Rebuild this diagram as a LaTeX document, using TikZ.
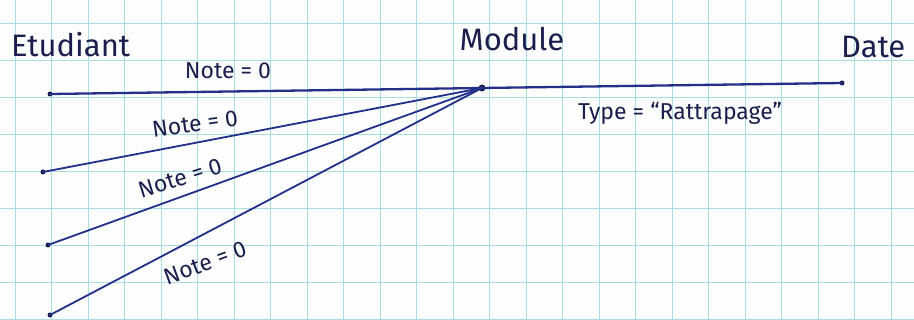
\documentclass[tikz,border=0pt]{standalone}
\usepackage{fontspec}
\setsansfont{Fira Sans}
\usepackage{tikz}
\definecolor{PAPER}{HTML}{FDFEFE}
\definecolor{GRID}{HTML}{A9DCE3}
\definecolor{PEN}{HTML}{23308A}
\definecolor{INK}{HTML}{1B1F4E}

\begin{document}
\begin{tikzpicture}[
    x=1pt, y=-1pt,
    gridline/.style={draw=GRID, line width=1pt},
    link/.style={draw=PEN, line width=1.8pt, line cap=round},
    dot/.style={circle, fill=INK, minimum size=5pt, inner sep=0pt},
    ent/.style={font=\sffamily\fontsize{31}{36}\selectfont, text=INK, inner sep=1pt},
    lbl/.style={font=\sffamily\fontsize{23}{27}\selectfont, text=INK, inner sep=1pt},
  ]
  \useasboundingbox (0,0) rectangle (914,320);
  \fill[PAPER] (0,0) rectangle (914,320);

  % squared paper
  \foreach \i in {0,...,24} {
    \draw[gridline] (15+\i*36.5, 0) -- (15+\i*36.5, 320);
  }
  \foreach \j in {0,...,8} {
    \draw[gridline] (0, 24+\j*37) -- (914, 24+\j*37);
  }

  % end points
  \node[dot, minimum size=7pt] (module) at (482, 88) {};
  \node[dot] (date) at (842, 83) {};
  \node[dot] (etu1) at (50, 94) {};
  \node[dot] (etu2) at (43, 172) {};
  \node[dot] (etu3) at (48, 245) {};
  \node[dot] (etu4) at (50, 315) {};

  % links
  \draw[link, line width=2.3pt] (etu1.center) -- (module.center);
  \draw[link, line width=2.3pt] (module.center) -- (date.center);
  \foreach \k in {2,3,4} {
    \draw[link] (etu\k.center) -- (module.center);
  }

  % entity names
  \node[ent, anchor=west] (etudiant) at (10, 45) {Etudiant};
  \node[ent] (modname) at (512, 39) {Module};
  \node[ent, anchor=west] (datename) at (840, 47) {Date};

  % attribute labels
  \node[lbl] (note1) at (228, 71) {Note = 0};
  \node[lbl, rotate=8] (note2) at (195, 124) {Note = 0};
  \node[lbl, rotate=17] (note3) at (180, 178) {Note = 0};
  \node[lbl, rotate=20] (note4) at (205, 263) {Note = 0};
  \node[lbl] (typ) at (680, 113) {Type = ``Rattrapage''};

\end{tikzpicture}
\end{document}
